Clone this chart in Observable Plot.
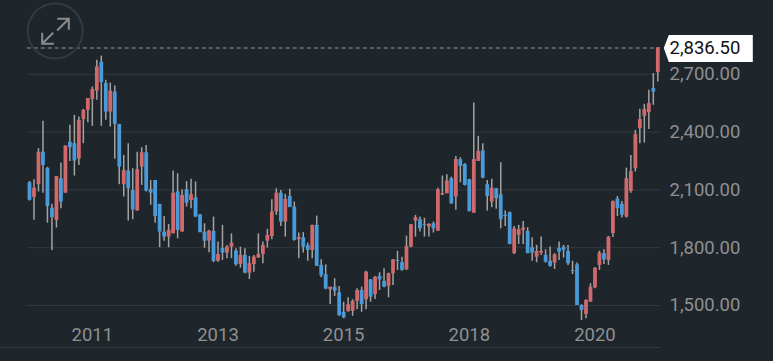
<!DOCTYPE html>
<html>
<head>
<meta charset="utf-8">
<script src="https://cdn.jsdelivr.net/npm/d3@7"></script>
<script src="https://cdn.jsdelivr.net/npm/@observablehq/plot@0.6"></script>
<style>
html,body{margin:0;padding:0;background:#1e252b;}
</style>
</head>
<body>
<div id="chart"></div>
<script>
const high = [2144,2153,2314,2456,2217,2025,2170,2239,2328,2435,
2487,2478,2518,2574,2634,2773,2794,2669,2655,2639,
2440,2279,2340,2210,2296,2319,2331,2149,2149,2025,
1962,1921,2198,2184,2101,2144,2155,2141,1971,1924,
1890,1959,1829,1916,1812,1872,1795,1803,1795,1755,
1760,1872,1829,1895,2049,2106,2097,2077,2103,2037,
1876,1878,1824,1916,1964,1737,1711,1595,1639,1599,
1517,1540,1530,1587,1595,1678,1635,1651,1670,1691,
1668,1739,1781,1751,1860,1921,1968,1959,1953,1924,
1933,2109,2172,2179,2166,2274,2267,2236,2155,2551,
2378,2340,2149,2155,2109,2241,1990,1985,1910,1916,
1936,1904,1852,1812,1855,1789,1803,1769,1829,1812,
1812,1730,1720,1504,1530,1613,1696,1782,1789,1858,
2042,2066,2040,2213,2279,2409,2518,2544,2617,2704,2838];
const bodyTop = [2137,2109,2296,2296,2212,2005,2169,2158,2328,2347,
2340,2461,2513,2574,2621,2738,2762,2652,2613,2608,
2440,2201,2198,2097,2205,2293,2293,2103,2149,2025,
1881,1890,2083,2089,2071,2101,2075,2059,1971,1881,
1886,1884,1765,1796,1803,1824,1782,1760,1760,1717,
1751,1765,1812,1864,1985,2083,2083,2051,2066,2011,
1852,1852,1810,1916,1916,1708,1660,1595,1595,1566,
1465,1504,1522,1578,1578,1673,1633,1647,1651,1625,
1665,1737,1734,1722,1806,1919,1956,1945,1921,1921,
1924,2101,2080,2146,2158,2258,2257,2232,2153,2258,
2300,2302,2127,2109,2106,2075,1968,1982,1898,1893,
1902,1884,1800,1781,1781,1760,1730,1763,1795,1803,
1781,1682,1711,1500,1526,1595,1694,1772,1769,1855,
2040,2053,2025,2158,2195,2387,2465,2517,2548,2626,2836.5];
const bodyBottom = [2046,2061,2127,2227,2014,1956,1942,2037,2083,2319,
2250,2260,2465,2513,2569,2613,2657,2504,2504,2440,
2218,2127,2106,1997,1990,2218,2094,2083,1962,1881,
1855,1855,1872,1890,1881,2031,2045,1959,1878,1834,
1834,1729,1730,1772,1772,1803,1711,1713,1668,1668,
1713,1746,1765,1834,1858,1985,1933,1933,2008,1838,
1841,1803,1786,1786,1703,1654,1585,1582,1574,1448,
1436,1469,1470,1522,1505,1530,1543,1557,1633,1595,
1600,1665,1729,1682,1685,1803,1938,1898,1916,1907,
1898,1886,2073,2080,2028,2063,2222,2123,1988,1979,
2248,2161,2066,2037,2054,1945,1962,1817,1769,1864,
1890,1769,1772,1751,1772,1725,1703,1720,1777,1786,
1717,1677,1500,1474,1453,1517,1592,1708,1737,1734,
1874,2003,1968,1959,2092,2210,2418,2482,2501,2608,2709];
const low = [2042,1942,2089,2083,1927,1786,1902,2002,2083,2248,
2172,2227,2340,2449,2430,2565,2430,2461,2426,2259,
2127,2063,1938,1945,1990,2123,2089,2020,1927,1800,
1834,1800,1872,1846,1881,2011,2002,1956,1878,1798,
1774,1722,1725,1734,1743,1743,1704,1694,1665,1635,
1673,1746,1717,1798,1841,1968,1910,1855,2008,1834,
1743,1772,1730,1743,1703,1644,1582,1505,1547,1443,
1431,1465,1444,1478,1465,1478,1517,1531,1578,1592,
1540,1604,1682,1678,1682,1800,1855,1881,1855,1855,
1876,1884,2071,2080,2025,1994,2137,2120,1985,1979,
2248,2158,1990,2008,1999,1898,1910,1815,1765,1817,
1817,1769,1730,1722,1760,1720,1699,1687,1734,1746,
1708,1661,1500,1422,1431,1517,1587,1682,1713,1708,
1853,1962,1954,1954,2083,2193,2340,2343,2413,2539,2660];
const direction = [
"duudddudud","duuuuuddud","dudduudddd",
"duudududdd","ududuududu","uuuuuududd","uddudddudd","duuudududd",
"uudduuuddu","duuududddu","uddudddduu","udduuddudd","dddduuuudu","udduuuuuudu"
].join("");
const tickIndex = [14, 42, 70, 98, 126];
const tickLabels = ["2011", "2013", "2015", "2018", "2020"];
const priceTicks = [1500, 1800, 2100, 2400, 2700];
const lastPrice = 2836.5;
const baseline = 1282;

const candles = high.map((h, i) => ({i, h, t: bodyTop[i], b: bodyBottom[i], l: low[i], up: direction[i] === "u"}));
const fmt = d3.format(",.2f");
const font = "Roboto, sans-serif";
const axisColor = "#8e9092";
const gridColor = "#333a40";

const flag = {draw(c) {
  c.moveTo(0, 0); c.lineTo(5, -13); c.lineTo(89, -13); c.lineTo(89, 14); c.lineTo(5, 14); c.closePath();
}};
const arrows = {draw(c) {
  c.moveTo(2, -12.2); c.lineTo(13.6, -12.2); c.lineTo(13.6, -1.2);
  c.moveTo(13.6, -12.2); c.lineTo(2, -0.5);
  c.moveTo(-13, 1.8); c.lineTo(-13, 12.8); c.lineTo(-1.4, 12.8);
  c.moveTo(-13, 12.8); c.lineTo(-2, 1.8);
}};

const chart = Plot.plot({
  width: 773, height: 361,
  marginLeft: 29, marginRight: 115.7, marginTop: 0, marginBottom: 36,
  style: {background: "#1e252b", fontFamily: font},
  x: {domain: [0, 140], range: [29, 657.3]},
  y: {domain: [1500, lastPrice], range: [305, 47.5]},
  marks: [
    Plot.ruleY(priceTicks, {x1: -0.5, x2: 140.6, stroke: gridColor, strokeWidth: 1}),
    Plot.ruleY([baseline], {x1: -6.46, x2: 140.6, stroke: gridColor, strokeWidth: 1}),
    Plot.ruleY([lastPrice], {x1: -0.5, x2: 140.6, stroke: "#9a9c9e", strokeWidth: 1, strokeDasharray: "4,3"}),
    Plot.axisX({ticks: tickIndex, tickFormat: d => tickLabels[tickIndex.indexOf(d)], tickSize: 0, tickPadding: 2, fontSize: 18.5, fill: axisColor, label: null}),
    Plot.axisY({anchor: "right", ticks: priceTicks, tickFormat: fmt, tickSize: 0, tickPadding: 11.7, fontSize: 18.5, fill: axisColor, label: null}),
    Plot.ruleX(candles, {x: "i", y1: "l", y2: "h", stroke: "#a3a3a3", strokeWidth: 1.5}),
    Plot.ruleX(candles.filter(d => d.up), {x: "i", y1: "b", y2: "t", stroke: "#d0696c", strokeWidth: 3.8}),
    Plot.ruleX(candles.filter(d => !d.up), {x: "i", y1: "b", y2: "t", stroke: "#4a9ad9", strokeWidth: 3.8}),
    Plot.dot([lastPrice], {x: () => 140, y: d => d, dx: 6, symbol: flag, fill: "#ffffff", stroke: "none"}),
    Plot.text([lastPrice], {x: () => 140, y: d => d, dx: 11.7, text: d => fmt(d), textAnchor: "start", fontSize: 18.5, fill: "#111111"}),
    Plot.dot([0], {frameAnchor: "top-left", dx: 25.7, dy: 30.5, r: 27.5, fill: "none", stroke: "#343a40", strokeWidth: 2}),
    Plot.dot([0], {frameAnchor: "top-left", dx: 25.7, dy: 30.5, symbol: arrows, fill: "none", stroke: "#8c8c8c", strokeWidth: 2})
  ]
});
document.getElementById("chart").appendChild(chart);
</script>
</body>
</html>
